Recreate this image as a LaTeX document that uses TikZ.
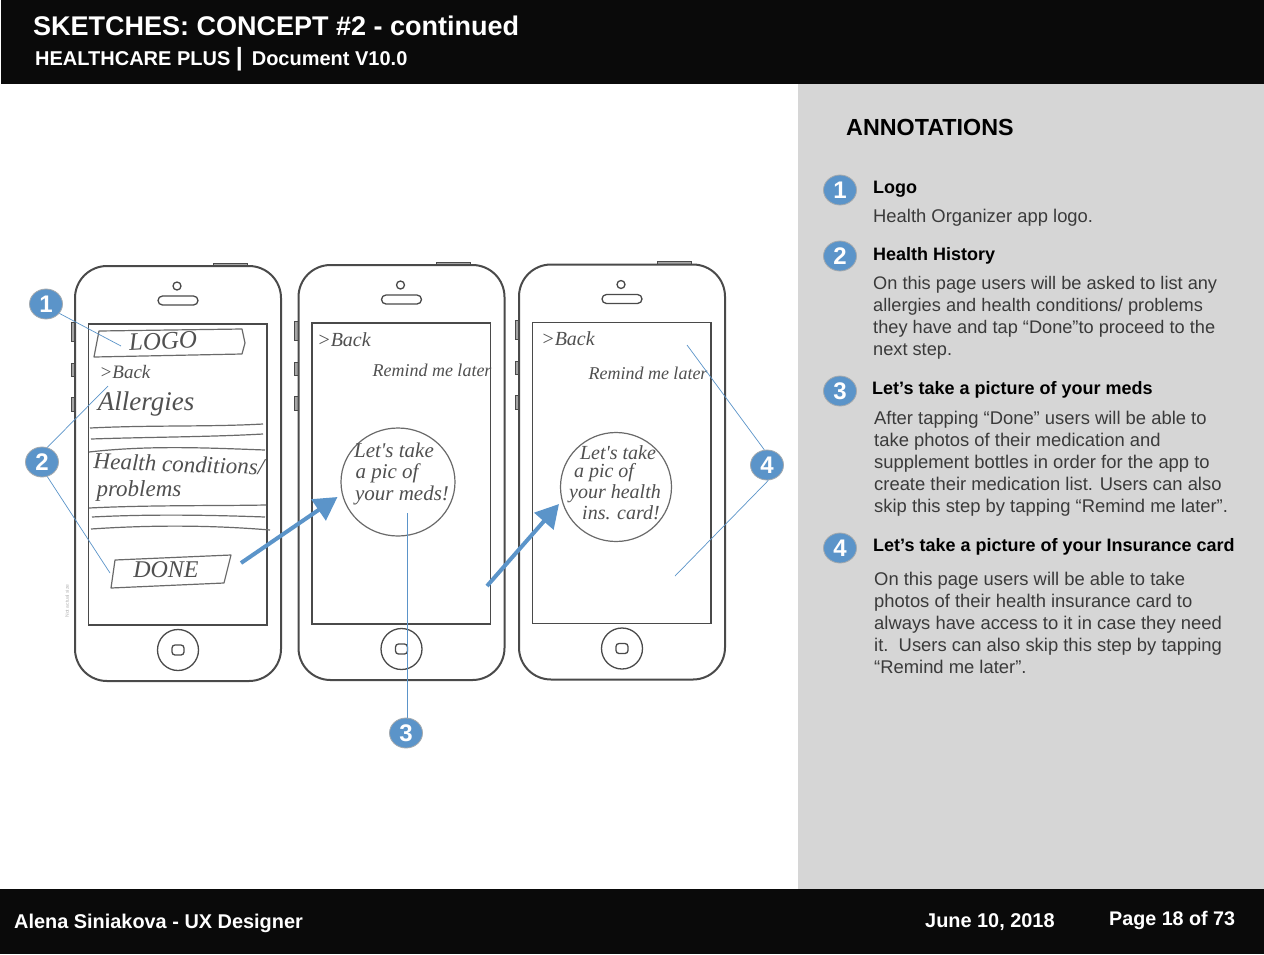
\documentclass[tikz,border=0pt]{standalone}
\usepackage{fontspec}
\setmainfont{Liberation Sans}
\newfontfamily\handfont[ItalicFont=* Italic]{Liberation Serif}
\usetikzlibrary{arrows.meta,shapes.geometric}
\definecolor{panel}{HTML}{D6D6D6}
\definecolor{barblack}{HTML}{0A0A0A}
\definecolor{callblue}{HTML}{5B94C9}
\definecolor{callrim}{HTML}{A3A9AE}
\definecolor{phoneink}{HTML}{4A4A4A}
\definecolor{pencil}{HTML}{505050}
\definecolor{bodytxt}{HTML}{3A3A3A}
\newcommand{\firstline}{\rule{0pt}{15pt}}
\tikzset{
  x=1pt,y=-1pt,
  callout/.style={ellipse,fill=callblue,draw=callrim,line width=0.8pt,minimum width=33pt,minimum height=30pt,inner sep=0pt,text=white,font=\fontsize{24}{24}\selectfont\bfseries},
  leader/.style={draw=callblue,line width=0.7pt},
  flow/.style={draw=callblue,line width=4pt,-{Triangle[length=23pt,width=25pt]}},
  phoneline/.style={draw=phoneink,line width=2pt},
  phonethin/.style={draw=phoneink,line width=1.3pt},
  phonekey/.style={draw=phoneink,fill=black!35,line width=1pt},
  sketch/.style={draw=pencil!85,line width=1.2pt,line join=round},
  hand/.style={text=pencil,inner sep=0pt,font=\handfont\itshape},
  heading/.style={anchor=base west,inner sep=0pt,font=\fontsize{18}{22}\selectfont\bfseries,text=black},
  bodytext/.style={anchor=north west,inner sep=0pt,align=left,text=bodytxt},
  barA/.style={anchor=base west,inner sep=0pt,text=white,font=\fontsize{19.9}{20}\selectfont\bfseries},
  pics/phone/.style={code={
    \draw[phonekey] (-4,56) rectangle (0,75);
    \draw[phonekey] (-4,97) rectangle (0,110);
    \draw[phonekey] (-4,131) rectangle (0,145);
    \draw[phonekey] (138,-3) rectangle (172,0);
    \draw[phoneline,fill=white,rounded corners=32pt] (0,0) rectangle (206,415);
    \draw[phonethin] (13.5,58) rectangle (192,359);
    \draw[phonethin] (102,20) circle (4);
    \draw[phonethin,rounded corners=4.5pt] (83,30) rectangle (123,39);
    \draw[phonethin] (103,384) circle (20.5);
    \draw[phonethin,rounded corners=3pt] (97,379) rectangle (109,389);
  }}
}
\begin{document}
\begin{tikzpicture}
\useasboundingbox (0,0) rectangle (1264,954);
\fill[white] (0,0) rectangle (1264,954);
\fill[panel] (798,84) rectangle (1264,889);
\fill[barblack] (1,0) rectangle (1264,84);
\fill[barblack] (0,889) rectangle (1264,954);

% header
\node[barA,font=\fontsize{27}{27}\selectfont\bfseries] (title) at (33,35) {SKETCHES: CONCEPT \#2 - continued};
\node[barA,font=\fontsize{20}{20}\selectfont\bfseries] (subtitle) at (35,65) {HEALTHCARE PLUS {\fontsize{25}{25}\selectfont|}\, Document V10.0};
% footer
\node[barA] (author) at (14,928) {Alena Siniakova - UX Designer};
\node[barA] (date) at (925,927) {June 10, 2018};
\node[barA,font=\fontsize{19.7}{20}\selectfont\bfseries] (page) at (1109,925) {Page 18 of 73};

% phones
\pic at (75,266) {phone};
\pic at (298.5,265) {phone};
\pic at (519,264.5) {phone};

% sketch, phone 1
\draw[sketch] (94,357) -- (99,331) -- (242,329) -- (245,343) -- (242,354) -- cycle;
\node[hand,font=\handfont\itshape\fontsize{25}{25}\selectfont,rotate=3] (logo) at (163,341) {LOGO};
\node[hand,font=\handfont\itshape\fontsize{19}{19}\selectfont] (back1) at (125,372) {>Back};
\node[hand,font=\handfont\itshape\fontsize{27}{27}\selectfont] (allergies) at (146,404) {Allergies};
\draw[sketch] (90,428) .. controls (150,425) and (210,427) .. (263,424);
\draw[sketch] (91,439) .. controls (150,437) and (210,437) .. (263,434);
\draw[sketch] (89,452) .. controls (150,445) and (210,448) .. (265,450);
\node[hand,font=\handfont\itshape\fontsize{23}{23}\selectfont,rotate=-2] (health) at (179,464) {Health conditions/};
\node[hand,font=\handfont\itshape\fontsize{23}{23}\selectfont] (problems) at (139,491) {problems};
\draw[sketch] (89,508) .. controls (150,505) and (210,506) .. (266,505);
\draw[sketch] (92,517) .. controls (150,514) and (210,515) .. (265,517);
\draw[sketch] (91,529) .. controls (150,525) and (210,525) .. (270,530);
\draw[sketch] (111,588) -- (115,560) -- (231,555) -- (224,583) -- cycle;
\node[hand,font=\handfont\itshape\fontsize{24}{24}\selectfont] (done) at (166,570) {DONE};

% sketch, phone 2
\node[hand,font=\handfont\itshape\fontsize{20}{20}\selectfont] (back2) at (344,340) {>Back};
\node[hand,font=\handfont\itshape\fontsize{18}{18}\selectfont] (remind2) at (432,370) {Remind me later};
\draw[sketch] (398,482) ellipse [x radius=57,y radius=54];
\node[hand,font=\handfont\itshape\fontsize{21}{21}\selectfont] (pic2a) at (394,450) {Let's take};
\node[hand,font=\handfont\itshape\fontsize{21}{21}\selectfont] (pic2b) at (387,473) {a pic of};
\node[hand,font=\handfont\itshape\fontsize{21}{21}\selectfont] (pic2c) at (402,495) {your meds!};

% sketch, phone 3
\node[hand,font=\handfont\itshape\fontsize{20}{20}\selectfont] (back3) at (568,339) {>Back};
\node[hand,font=\handfont\itshape\fontsize{18}{18}\selectfont] (remind3) at (648,373) {Remind me later};
\draw[sketch] (616,487) ellipse [x radius=55.5,y radius=54.5];
\node[hand,font=\handfont\itshape\fontsize{20}{20}\selectfont] (pic3a) at (618,453) {Let's take};
\node[hand,font=\handfont\itshape\fontsize{20}{20}\selectfont] (pic3b) at (604,473) {a pic of};
\node[hand,font=\handfont\itshape\fontsize{20}{20}\selectfont] (pic3c) at (615,494) {your health};
\node[hand,font=\handfont\itshape\fontsize{20}{20}\selectfont] (pic3d) at (621,513) {ins. card!};

% faint note
\node[inner sep=0pt,rotate=90,text=black!30,font=\fontsize{5}{5}\selectfont] (note) at (67,601) {Not actual size};

% flow arrows
\coordinate (f1a) at (241,563); \coordinate (f1b) at (337.5,497);
\coordinate (f2a) at (487,586); \coordinate (f2b) at (559,504);
\draw[flow] (f1a) -- (f1b);
\draw[flow] (f2a) -- (f2b);

% callouts on the sketches
\node[callout] (c1) at (46,304) {1};
\node[callout] (c2) at (42,462) {2};
\node[callout] (c3) at (406,733) {3};
\node[callout] (c4) at (767,465) {4};
\coordinate (t1) at (121,346);
\coordinate (t2a) at (108,386);
\coordinate (t2b) at (110,573);
\coordinate (t3) at (407,513);
\coordinate (t4a) at (687,345);
\coordinate (t4b) at (675,576);
\draw[leader] (c1.-35) -- (t1);
\draw[leader] (c2.70) -- (t2a);
\draw[leader] (c2.-70) -- (t2b);
\draw[leader] ([xshift=1pt]c3.north) -- (t3);
\draw[leader] (c4.100) -- (t4a);
\draw[leader] (c4.-85) -- (t4b);

% annotations
\node[anchor=base west,inner sep=0pt,font=\fontsize{23.3}{24}\selectfont\bfseries] (ann) at (846,135) {ANNOTATIONS};
\node[callout] (a1) at (840,190) {1};
\node[callout] (a2) at (840,256) {2};
\node[callout] (a3) at (840,391) {3};
\node[callout] (a4) at (840,548) {4};
\node[heading] (h1) at (873,193) {Logo};
\node[bodytext,font=\fontsize{18.4}{22}\selectfont] (b1) at (873,207) {\firstline Health Organizer app logo.};
\node[heading] (h2) at (873,260) {Health History};
\node[bodytext,font=\fontsize{18.2}{22}\selectfont] (b2) at (873,274) {\firstline On this page users will be asked to list any\\allergies and health conditions/ problems\\they have and tap “Done”to proceed to the\\next step.};
\node[heading] (h3) at (872,394) {Let’s take a picture of your meds};
\node[bodytext,font=\fontsize{18.4}{22}\selectfont] (b3) at (874,409) {\firstline After tapping “Done” users will be able to\\take photos of their medication and\\supplement bottles in order for the app to\\create their medication list. Users can also\\skip this step by tapping “Remind me later”.};
\node[heading] (h4) at (873,551) {Let’s take a picture of your Insurance card};
\node[bodytext,font=\fontsize{18.4}{22}\selectfont] (b4) at (874,570) {\firstline On this page users will be able to take\\photos of their health insurance card to\\always have access to it in case they need\\it.\ \ Users can also skip this step by tapping\\“Remind me later”.};
\end{tikzpicture}
\end{document}
